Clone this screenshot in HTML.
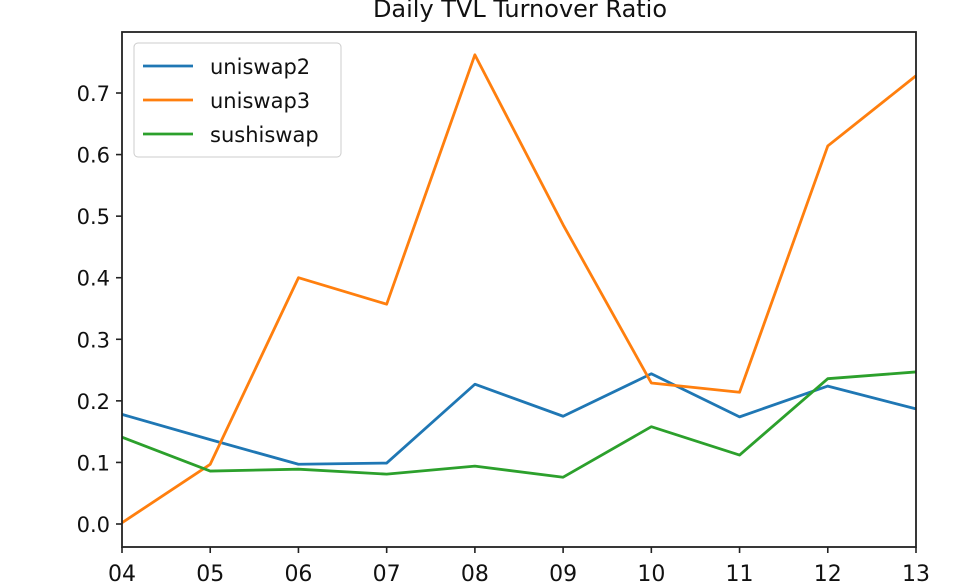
<!DOCTYPE html>
<html><head><meta charset="utf-8"><style>
body{margin:0;background:#fff;}
svg{display:block;font-family:"DejaVu Sans","Liberation Sans",sans-serif;}
</style></head><body>
<svg id="chart" width="960" height="585">
<text x="520" y="17" text-anchor="middle" font-size="24" fill="#111">Daily TVL Turnover Ratio</text>
<g id="axes"></g><g id="lines"></g>
<rect x="122" y="32" width="794" height="515" fill="none" stroke="#222" stroke-width="1.8"/>
<g>
<rect x="134" y="43" width="207" height="114" rx="4" fill="#fff" fill-opacity="0.85" stroke="#ccc"/>
<line x1="143" y1="66" x2="193" y2="66" stroke="#1f77b4" stroke-width="2.8"/>
<text x="210" y="74" font-size="21" fill="#111">uniswap2</text>
<line x1="143" y1="100" x2="193" y2="100" stroke="#ff7f0e" stroke-width="2.8"/>
<text x="210" y="108" font-size="21" fill="#111">uniswap3</text>
<line x1="143" y1="134" x2="193" y2="134" stroke="#2ca02c" stroke-width="2.8"/>
<text x="210" y="142" font-size="21" fill="#111">sushiswap</text>
</g>
</svg>
<script>
const categories=["04","05","06","07","08","09","10","11","12","13"];
const uniswap2=[0.178,0.137,0.097,0.099,0.227,0.175,0.244,0.174,0.224,0.187];
const uniswap3=[0.002,0.097,0.400,0.357,0.762,0.486,0.229,0.214,0.614,0.728];
const sushiswap=[0.141,0.086,0.089,0.081,0.094,0.076,0.158,0.112,0.236,0.247];
const yTicks=[0.0,0.1,0.2,0.3,0.4,0.5,0.6,0.7];
const NS="http://www.w3.org/2000/svg";
const x0=122,x1=916;
function xs(i){return x0+i*(x1-x0)/(categories.length-1);}
function ys(v){return 524-v*615.7;}
const axes=document.getElementById('axes'),lines=document.getElementById('lines');
function mk(tag,attrs,parent){const e=document.createElementNS(NS,tag);for(const k in attrs)e.setAttribute(k,attrs[k]);parent.appendChild(e);return e;}
yTicks.forEach(v=>{
  const t=mk('line',{x1:x0-6,x2:x0,y1:ys(v),y2:ys(v),stroke:'#222','stroke-width':1.6},axes);
  
  
  const l=mk('text',{x:x0-12,y:ys(v)+8,'text-anchor':'end','font-size':21,fill:'#111'},axes);
  l.textContent=v.toFixed(1);
  
  
});
categories.forEach((c,i)=>{
  const t=mk('line',{x1:xs(i),x2:xs(i),y1:547,y2:553,stroke:'#222','stroke-width':1.6},axes);
  
  
  const l=mk('text',{x:xs(i),y:581,'text-anchor':'middle','font-size':22,fill:'#111'},axes);
  l.textContent=c;
  
  
});
[[uniswap2,'#1f77b4','uniswap2'],[uniswap3,'#ff7f0e','uniswap3'],[sushiswap,'#2ca02c','sushiswap']].forEach(([d,col,n])=>{
  const p=mk('polyline',{points:d.map((v,i)=>xs(i)+','+ys(v)).join(' '),fill:'none',stroke:col,'stroke-width':2.8,'stroke-linejoin':'round'},lines);
  
  
});
</script>
</body></html>
